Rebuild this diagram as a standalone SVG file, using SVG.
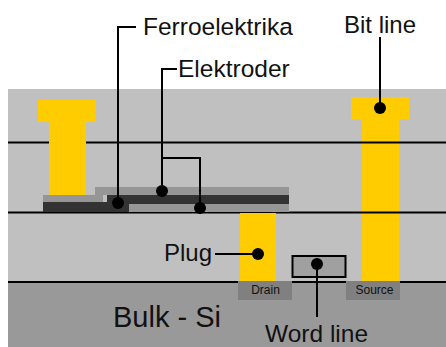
<svg xmlns="http://www.w3.org/2000/svg" width="446" height="347" viewBox="0 0 446 347">
<defs>
<style>
.t{font-family:"Liberation Sans",Arial,sans-serif;fill:#111}
.w{stroke:#000;stroke-width:2;fill:none}
.y{fill:#ffcc00}
.g{fill:#969696}
.d{fill:#333333}
.s{fill:#808080}
</style>
</defs>
<g id="substrate">
<rect x="8" y="89" width="438" height="193" fill="#c0c0c0"/>
<rect x="8" y="282" width="438" height="65" fill="#999999"/>
</g>
<g id="bit-contact"><path class="y" d="M351 97H409V119H399V281H362V119H351Z"/></g>
<g id="layer-lines"><path class="w" d="M8 142.500H446M8 212.500H446M8 282H446"/></g>
<g id="left-contact"><path class="y" d="M38 100H96V122H86V195H49V122H38Z"/></g>
<g id="capacitor">
<rect class="g" x="43" y="195" width="60" height="8"/>
<rect class="d" x="43" y="202" width="86" height="10"/>
<rect class="g" x="95" y="187" width="194" height="8"/>
<rect class="d" x="107" y="195" width="182" height="9"/>
<rect class="g" x="129" y="204" width="160" height="8"/>
</g>
<g id="plug"><rect class="y" x="240" y="213" width="36" height="68"/></g>
<g id="drain"><rect class="s" x="238" y="281" width="54" height="19"/><text class="t" x="265.500" y="294" font-size="12" text-anchor="middle">Drain</text></g>
<g id="source"><rect class="s" x="346" y="281" width="54" height="19"/><text class="t" x="374.500" y="294" font-size="12" text-anchor="middle">Source</text></g>
<g id="word-gate"><rect x="292.500" y="256" width="53" height="21" fill="#a0a0a0" stroke="#000" stroke-width="2"/></g>
<g id="connectors">
<path class="w" d="M136 27H118V203"/>
<path class="w" d="M177 69H162V190"/>
<path class="w" d="M162 158H200V208"/>
<path class="w" d="M380 37V108"/>
<path class="w" d="M215 254H257"/>
<path class="w" d="M317 264V317"/>
<circle cx="118" cy="203" r="6"/>
<circle cx="162" cy="191" r="6"/>
<circle cx="200" cy="208" r="6"/>
<circle cx="380" cy="108" r="6"/>
<circle cx="258" cy="254" r="6"/>
<circle cx="317" cy="264" r="6"/>
</g>
<g id="labels">
<text class="t" x="143" y="35" font-size="24.500">Ferroelektrika</text>
<text class="t" x="178" y="77" font-size="24.500">Elektroder</text>
<text class="t" x="344" y="33" font-size="24">Bit line</text>
<text class="t" x="164" y="261" font-size="24">Plug</text>
<text class="t" x="113" y="327" font-size="29">Bulk - Si</text>
<text class="t" x="265" y="342" font-size="24.500">Word line</text>
</g>
</svg>
